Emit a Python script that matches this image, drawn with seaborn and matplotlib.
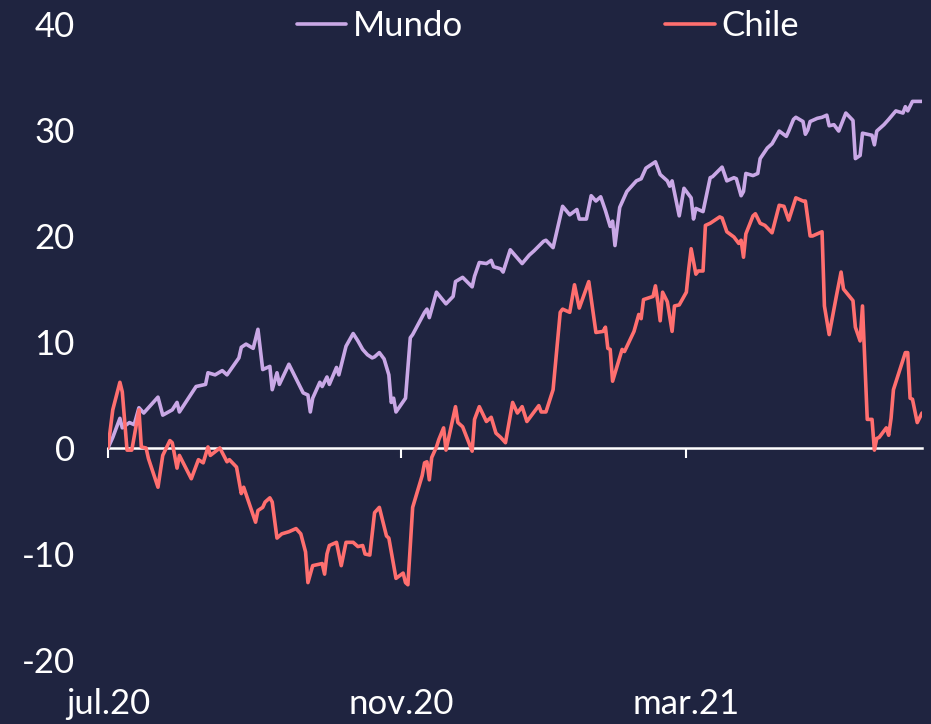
import pandas as pd
import matplotlib.pyplot as plt
import seaborn as sns

# Series: days since 2020-07-01 and cumulative return (%)
start = pd.Timestamp("2020-07-01")

mundo_days = [0, 2, 5, 6, 9, 11, 13, 15, 21, 23, 27, 29, 30, 37, 41, 42, 45, 48, 50, 55,
              56, 58, 61, 63, 65, 67, 68, 69, 71, 72, 76, 82, 84, 85, 86, 89, 90, 92, 93, 96,
              97, 100, 103, 105, 107, 109, 111, 112, 114, 116, 118, 119, 120, 121, 125, 127, 128, 133, 134, 135,
              138, 142, 145, 146, 149, 153, 154, 156, 159, 161, 162, 165, 166, 169, 174, 177, 179, 183, 184, 187,
              191, 194, 197, 198, 201, 203, 205, 207, 209, 211, 212, 213, 215, 218, 222, 224, 226, 230, 232, 235,
              236, 237, 240, 242, 245, 246, 247, 250, 253, 254, 258, 260, 263, 264, 266, 267, 268, 271, 273, 274,
              277, 279, 282, 285, 286, 288, 289, 292, 293, 294, 295, 298, 300, 302, 303, 305, 307, 310, 313, 314,
              316, 317, 321, 322, 323, 326, 328, 331, 334, 335, 336, 338, 342]
mundo_vals = [0.0, 1.0, 2.8, 1.9, 2.4, 2.2, 3.8, 3.3, 4.8, 3.1, 3.6, 4.3, 3.4, 5.8, 6.0, 7.1, 6.9, 7.3, 6.9, 8.5,
              9.5, 9.8, 9.4, 11.2, 7.4, 7.6, 7.7, 5.5, 7.1, 6.0, 7.9, 5.2, 5.0, 3.4, 4.7, 6.2, 5.8, 6.7, 6.0, 7.6,
              6.9, 9.6, 10.8, 10.1, 9.3, 8.8, 8.5, 8.6, 9.0, 8.4, 6.9, 4.3, 4.7, 3.4, 4.7, 10.4, 10.7, 12.8, 13.1, 12.3,
              14.7, 13.6, 14.3, 15.7, 16.1, 15.2, 16.2, 17.5, 17.4, 17.7, 17.1, 16.9, 16.6, 18.7, 17.4, 18.2, 18.6, 19.5, 19.6, 18.9,
              22.8, 22.0, 22.5, 21.6, 21.6, 23.8, 23.3, 23.7, 22.4, 20.9, 21.4, 19.1, 22.7, 24.2, 25.2, 25.4, 26.4, 27.0, 25.8, 25.2,
              24.7, 25.2, 21.9, 24.5, 23.6, 21.6, 22.6, 22.3, 25.5, 25.6, 26.5, 25.2, 25.5, 25.4, 23.8, 24.2, 25.9, 25.7, 25.9, 27.3,
              28.3, 28.7, 29.9, 29.4, 29.9, 31.0, 31.2, 30.8, 29.6, 30.0, 30.8, 31.1, 31.2, 31.4, 30.4, 30.5, 29.9, 31.6, 30.9, 27.3,
              27.6, 29.7, 29.5, 28.6, 29.9, 30.5, 31.0, 31.8, 31.6, 32.2, 31.8, 32.7, 32.7]

chile_days = [0, 2, 5, 6, 8, 10, 13, 14, 16, 17, 21, 23, 26, 27, 29, 30, 35, 38, 40, 42,
              43, 47, 50, 51, 54, 56, 57, 62, 63, 65, 66, 68, 69, 71, 73, 76, 79, 81, 83, 84,
              86, 90, 91, 92, 93, 96, 98, 100, 103, 105, 107, 108, 110, 112, 114, 117, 118, 121, 124, 125,
              126, 128, 132, 133, 134, 135, 136, 138, 139, 141, 142, 146, 147, 149, 153, 154, 156, 159, 161, 163,
              165, 167, 170, 172, 174, 176, 181, 182, 184, 187, 190, 191, 194, 196, 198, 202, 205, 208, 209, 210,
              211, 212, 216, 217, 221, 223, 224, 225, 229, 230, 231, 232, 233, 235, 237, 238, 240, 243, 244, 245,
              247, 248, 250, 251, 253, 257, 258, 260, 263, 265, 266, 267, 268, 271, 272, 274, 276, 279, 282, 284,
              286, 289, 292, 293, 295, 296, 300, 301, 303, 306, 308, 309, 313, 314, 316, 317, 319, 321, 322, 323,
              324, 327, 328, 329, 330, 335, 336, 337, 338, 340, 342]
chile_vals = [0.0, 3.6, 6.2, 5.3, -0.2, -0.2, 3.6, 0.1, 0.0, -1.0, -3.7, -0.7, 0.7, 0.5, -1.9, -0.7, -2.9, -1.1, -1.4, 0.1,
              -0.7, 0.0, -1.3, -1.1, -1.8, -4.3, -3.7, -7.0, -5.9, -5.6, -5.1, -4.7, -5.1, -8.5, -8.1, -7.9, -7.6, -8.1, -9.8, -12.7,
              -11.1, -10.9, -11.9, -10.0, -9.2, -8.9, -11.1, -8.9, -8.9, -9.3, -9.2, -10.0, -10.1, -6.1, -5.6, -8.3, -8.5, -12.3, -11.8, -12.7,
              -12.9, -5.6, -2.6, -1.4, -1.3, -3.0, -0.9, 0.1, 0.8, 1.9, -0.2, 3.9, 2.4, 2.0, -0.3, 2.7, 3.9, 2.5, 2.9, 1.4,
              1.0, 0.5, 4.3, 3.3, 3.9, 2.5, 4.0, 3.4, 3.4, 5.5, 12.8, 13.1, 12.8, 15.4, 13.2, 15.7, 10.9, 11.0, 11.4, 9.4,
              9.3, 6.3, 9.3, 9.1, 11.0, 12.6, 12.2, 14.0, 14.3, 15.3, 13.8, 12.0, 14.7, 13.8, 11.0, 13.4, 13.5, 14.7, 16.9, 18.8,
              16.4, 16.7, 16.7, 21.0, 21.2, 21.8, 21.7, 20.4, 19.9, 19.3, 19.6, 18.0, 20.2, 21.9, 22.1, 21.2, 21.0, 20.3, 22.9, 22.8,
              21.5, 23.6, 23.3, 23.3, 20.0, 20.0, 20.4, 13.4, 10.7, 14.3, 16.6, 15.0, 13.9, 11.4, 10.1, 13.4, 2.7, 2.7, -0.2, 0.9,
              1.0, 1.9, 1.2, 2.8, 5.5, 9.0, 9.0, 4.7, 4.6, 2.4, 3.3]

series_names = ["Mundo", "Chile"]
yticks = [-20, -10, 0, 10, 20, 30, 40]
xtick_dates = ["2020-07-01", "2020-11-01", "2021-03-01"]
xtick_labels = ["jul.20", "nov.20", "mar.21"]

bg = "#1F2440"
palette = {"Mundo": "#C9A8E6", "Chile": "#FF6F6F"}


def main():
    mundo = pd.DataFrame({"fecha": start + pd.to_timedelta(mundo_days, unit="D"),
                          "valor": mundo_vals, "serie": series_names[0]})
    chile = pd.DataFrame({"fecha": start + pd.to_timedelta(chile_days, unit="D"),
                          "valor": chile_vals, "serie": series_names[1]})
    df = pd.concat([mundo, chile], ignore_index=True)

    sns.set_theme(style="white")
    plt.rcParams["font.family"] = ["Lato", "DejaVu Sans"]
    plt.rcParams["font.weight"] = "normal"
    fs = 25

    fig = plt.figure(figsize=(9.31, 7.24), dpi=100, facecolor=bg)
    ax = fig.add_axes([108 / 931, 1 - 660 / 724, (922 - 108) / 931, (660 - 24) / 724])
    ax.set_facecolor(bg)

    sns.lineplot(data=df, x="fecha", y="valor", hue="serie", hue_order=series_names,
                 palette=palette, estimator=None, sort=False, linewidth=2.6, ax=ax)

    ymin, ymax = yticks[0], yticks[-1]
    ax.set_ylim(ymin, ymax)
    ax.set_xlim(start, start + pd.Timedelta(days=max(mundo_days[-1], chile_days[-1])))
    ax.set_yticks(yticks)
    ax.set_yticklabels([str(v) for v in yticks])
    ax.set_xticks(pd.to_datetime(xtick_dates))
    ax.set_xticklabels(xtick_labels)
    ax.tick_params(axis="both", length=0, colors="white", labelsize=fs)
    ax.tick_params(axis="y", pad=24)
    ax.tick_params(axis="x", pad=20)
    ax.set_xlabel("")
    ax.set_ylabel("")
    for s in ax.spines.values():
        s.set_visible(False)
    ax.grid(False)

    # zero line with tick marks, like an Excel category axis crossing at 0
    zero = ax.secondary_xaxis((0 - ymin) / (ymax - ymin))
    zero.set_xticks(pd.to_datetime(xtick_dates))
    zero.xaxis.set_ticks_position("bottom")
    zero.spines["top"].set_visible(False)
    zero.spines["bottom"].set_visible(True)
    zero.spines["bottom"].set_color("white")
    zero.spines["bottom"].set_linewidth(1.8)
    zero.tick_params(axis="x", direction="out", length=7, width=1.5, colors="white",
                     labelbottom=False, labeltop=False)

    handles, labels = ax.get_legend_handles_labels()
    ax.legend(handles, labels, loc="center", bbox_to_anchor=(548 / 931, 1 - 26 / 724),
              bbox_transform=fig.transFigure, ncol=2, frameon=False, fontsize=fs,
              handlelength=1.43, handletextpad=0.2, columnspacing=5.8, labelcolor="white")

    fig.savefig("out.png", dpi=100, facecolor=bg)
    plt.close(fig)


if __name__ == "__main__":
    main()
